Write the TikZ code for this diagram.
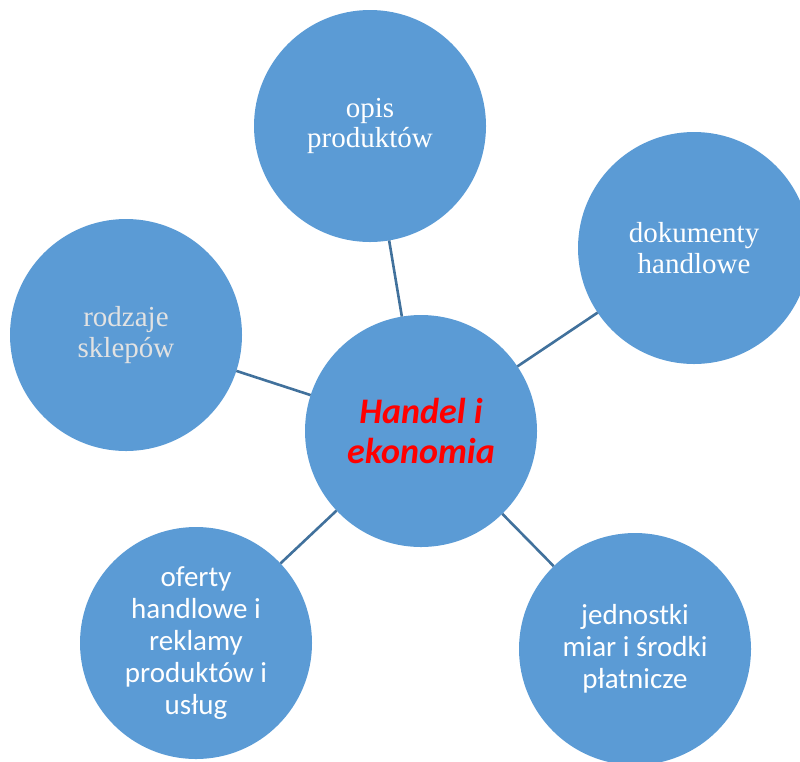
\documentclass[tikz,border=0pt]{standalone}
\usepackage{fontspec}
\setmainfont{Liberation Serif}
\newfontfamily\calib{Carlito}
\definecolor{cfill}{RGB}{91,155,213}
\definecolor{cline}{RGB}{65,113,156}
\definecolor{ltgray}{RGB}{226,226,226}
\definecolor{hred}{RGB}{255,0,0}
\tikzset{
  bubble/.style={circle, fill=cfill, minimum size=232pt, inner sep=0pt, outer sep=0pt, align=center, text=white},
  serifbub/.style={bubble, font=\fontsize{29}{30.5}\selectfont},
  sansbub/.style={bubble, font=\calib\fontsize{29}{32}\selectfont},
  centerbub/.style={bubble, font=\calib\bfseries\itshape\fontsize{36}{40}\selectfont, text=hred},
  link/.style={draw=cline, line width=2.6pt}
}
\begin{document}
\begin{tikzpicture}[x=1pt, y=-1pt]
\useasboundingbox (0,0) rectangle (800,761);
\clip (0,0) rectangle (800,761);
\node[centerbub] (c) at (421,431) {Handel i\\ekonomia};
\node[serifbub] (t) at (370,126) {opis\\produktów};
\node[serifbub] (r) at (694,248) {dokumenty\\handlowe};
\node[serifbub, text=ltgray] (l) at (126,335) {rodzaje\\sklepów};
\node[sansbub] (bl) at (196,643) {oferty\\handlowe i\\reklamy\\produktów i\\usług};
\node[sansbub] (br) at (635,649) {jednostki\\miar i środki\\płatnicze};
\draw[link] (c) -- (t);
\draw[link] (c) -- (r);
\draw[link] (c) -- (l);
\draw[link] (c) -- (bl);
\draw[link] (c) -- (br);
\end{tikzpicture}
\end{document}
